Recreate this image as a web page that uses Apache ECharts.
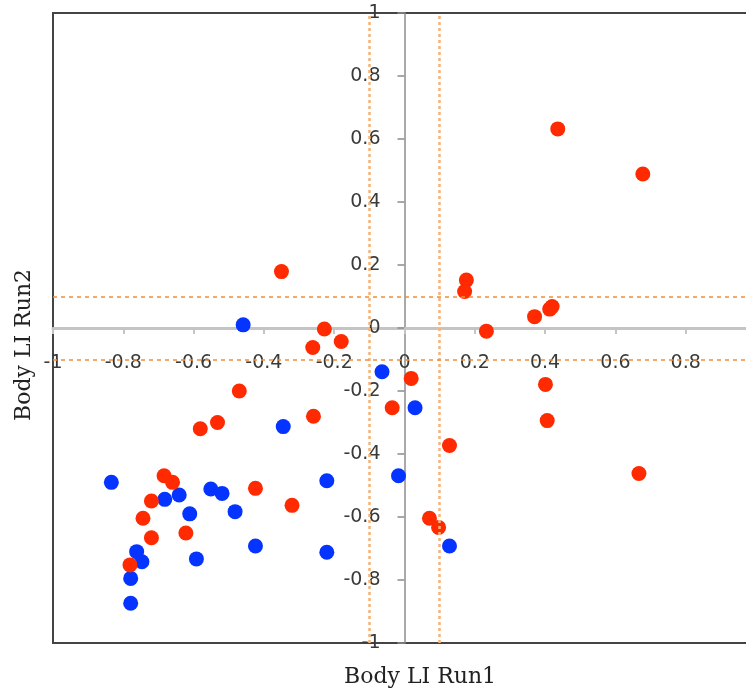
<!DOCTYPE html>
<html><head><meta charset="utf-8">
<script src="https://cdn.jsdelivr.net/npm/echarts@6/dist/echarts.min.js"></script>
<style>html,body{margin:0;padding:0;background:#fff}#c{width:746px;height:695px}</style>
</head><body><div id="c"></div>
<script>
// Series "red": [Body LI Run1, Body LI Run2]
const redX = [0.436, 0.678, -0.350, 0.176, 0.171, 0.233, 0.370, 0.413, 0.420, 0.401, 0.406, 0.667,
  -0.228, -0.261, -0.180, 0.019, -0.035, -0.259, 0.128, -0.470, -0.532, -0.581, -0.424, -0.320,
  0.071, 0.097, -0.684, -0.660, -0.720, -0.744, -0.720, -0.622, -0.781];
const redY = [0.632, 0.489, 0.179, 0.152, 0.116, -0.010, 0.036, 0.060, 0.068, -0.179, -0.294, -0.462,
  -0.003, -0.062, -0.043, -0.160, -0.253, -0.280, -0.373, -0.200, -0.300, -0.320, -0.509, -0.563,
  -0.604, -0.633, -0.469, -0.490, -0.549, -0.604, -0.666, -0.651, -0.752];
// Series "blue"
const blueX = [-0.459, -0.064, 0.030, -0.345, -0.017, -0.221, -0.221, 0.128, -0.424, -0.834, -0.682,
  -0.641, -0.551, -0.519, -0.482, -0.611, -0.592, -0.762, -0.747, -0.779, -0.779];
const blueY = [0.010, -0.139, -0.253, -0.313, -0.469, -0.485, -0.712, -0.692, -0.692, -0.490, -0.544,
  -0.530, -0.511, -0.525, -0.583, -0.590, -0.733, -0.710, -0.742, -0.795, -0.874];
// Threshold reference lines
const refLinesX = [-0.1, 0.1];
const refLinesY = [-0.1, 0.1];
const axisMin = -1, axisMax = 1, axisStep = 0.2;
const xTitle = 'Body LI Run1';
const yTitle = 'Body LI Run2';

const W = 746, H = 695;
const G = {left: 53, top: 13, bottom: 52, right: -10};
const plotW = W - G.left - G.right, plotH = H - G.top - G.bottom;

const zip = (xs, ys) => xs.map((x, i) => [x, ys[i]]);
const chart = echarts.init(document.getElementById('c'), null, {renderer: 'canvas'});
const labelStyle = {color: '#3a3a3a', fontFamily: 'DejaVu Sans', fontSize: 19};
chart.setOption({
  animation: false,
  backgroundColor: '#fff',
  grid: Object.assign({show: true, borderColor: '#444', borderWidth: 2, backgroundColor: 'transparent',
    containLabel: false, outerBoundsMode: 'none'}, G),
  xAxis: {
    type: 'value', min: axisMin, max: axisMax, interval: axisStep,
    position: 'bottom', offset: -plotH / 2,
    axisLine: {onZero: false, lineStyle: {color: '#c4c4c4', width: 3}},
    axisTick: {show: true, length: 6, inside: false, lineStyle: {color: '#c4c4c4', width: 2}},
    axisLabel: Object.assign({margin: 26, showMinLabel: true, showMaxLabel: true, hideOverlap: false}, labelStyle),
    splitLine: {show: false}
  },
  yAxis: {
    type: 'value', min: axisMin, max: axisMax, interval: axisStep,
    position: 'left', offset: -plotW / 2,
    axisLine: {onZero: false, lineStyle: {color: '#8c8c8c', width: 1.5}},
    axisTick: {show: true, length: 7, lineStyle: {color: '#8c8c8c', width: 1.5}},
    axisLabel: Object.assign({margin: 24, showMinLabel: true, showMaxLabel: true, hideOverlap: false}, labelStyle),
    splitLine: {show: false}
  },
  graphic: [
    {type: 'text', left: 344, top: 666, style: {text: xTitle, fill: '#222', font: '22px "DejaVu Serif"'}},
    {type: 'text', x: 13, y: 421, rotation: Math.PI / 2, style: {text: yTitle, fill: '#222', font: '22px "DejaVu Serif"'}}
  ],
  series: [
    {
      type: 'scatter', name: 'ref', data: [], silent: true,
      markLine: {
        silent: true, symbol: 'none', label: {show: false}, animation: false,
        data: refLinesX.map(v => ({xAxis: v, lineStyle: {color: '#f5b27a', width: 2.5, type: [3, 3]}}))
          .concat(refLinesY.map(v => ({yAxis: v, lineStyle: {color: '#ec9038', width: 1.5, type: [4, 4]}})))
      }
    },
    {type: 'scatter', name: 'blue', symbolSize: 15, itemStyle: {color: '#0533ff', opacity: 1}, data: zip(blueX, blueY), z: 3},
    {type: 'scatter', name: 'red', symbolSize: 15, itemStyle: {color: '#ff2a00', opacity: 1}, data: zip(redX, redY), z: 4}
  ]
});
</script></body></html>
